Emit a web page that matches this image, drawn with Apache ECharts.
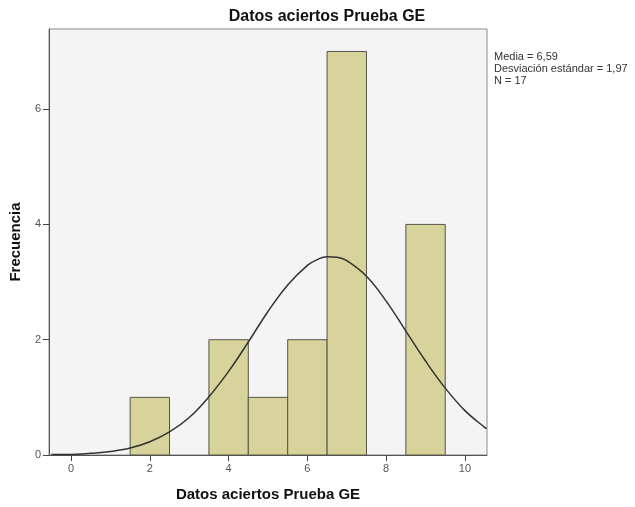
<!DOCTYPE html>
<html><head><meta charset="utf-8">
<script src="https://cdn.jsdelivr.net/npm/echarts@6/dist/echarts.min.js"></script>
<style>html,body{margin:0;padding:0;background:#fff}#c{width:635px;height:507px}</style>
</head><body><div id="c"></div>
<script>
var title = "Datos aciertos Prueba GE";
var xLabel = "Datos aciertos Prueba GE";
var yLabel = "Frecuencia";
var binCenters = [2, 4, 5, 6, 7, 9];
var binCounts = [1, 2, 1, 2, 7, 4];
var binWidth = 1;
var xTicks = [0, 2, 4, 6, 8, 10];
var yTicks = [0, 2, 4, 6];
var curveX = [-0.5, 0, 0.5, 1, 1.5, 2, 2.5, 3, 3.5, 4, 4.5, 5, 5.5, 6, 6.25, 6.5, 6.75, 7, 7.5, 8, 8.5, 9, 9.5, 10, 10.5, 10.55];
var curveY = [0.01, 0.01, 0.03, 0.06, 0.12, 0.23, 0.40, 0.65, 1.01, 1.45, 1.96, 2.49, 2.95, 3.29, 3.39, 3.44, 3.43, 3.37, 3.10, 2.67, 2.15, 1.63, 1.16, 0.77, 0.48, 0.46];
var statsLines = ["Media = 6,59", "Desviación estándar = 1,97", "N = 17"];

var chart = echarts.init(document.getElementById('c'), null, {renderer: 'canvas'});
var font = 'Liberation Sans, Arial, sans-serif';
var barData = binCenters.map(function (c, i) { return [c, binCounts[i]]; });
var curveData = curveX.map(function (x, i) { return [x, curveY[i]]; });

chart.setOption({
  animation: false,
  backgroundColor: '#ffffff',
  title: {
    text: title, left: 322, top: 4, textAlign: 'center',
    textStyle: {fontFamily: font, fontSize: 16, fontWeight: 'bold', color: '#111'}
  },
  grid: {left: 48, right: 148, top: 29, bottom: 49, show: true, backgroundColor: '#f4f4f4', borderColor: '#8a8a8a', borderWidth: 1},
  xAxis: {
    type: 'value', min: -0.56, max: 10.56,
    name: xLabel, nameLocation: 'middle', nameGap: 32,
    nameTextStyle: {fontFamily: font, fontSize: 15, fontWeight: 'bold', color: '#111'},
    axisLine: {show: true, onZero: false, lineStyle: {color: '#555', width: 1}},
    axisTick: {show: true, inside: false, length: 6, customValues: xTicks, lineStyle: {color: '#444'}},
    axisLabel: {customValues: xTicks, fontFamily: font, fontSize: 11, color: '#555', margin: 8},
    splitLine: {show: false}
  },
  yAxis: {
    type: 'value', min: 0, max: 7.39,
    name: yLabel, nameLocation: 'middle', nameGap: 26, nameRotate: 90,
    nameTextStyle: {fontFamily: font, fontSize: 15, fontWeight: 'bold', color: '#111'},
    axisLine: {show: true, onZero: false, lineStyle: {color: '#555', width: 1}},
    axisTick: {show: true, inside: false, length: 6, customValues: yTicks, lineStyle: {color: '#444'}},
    axisLabel: {customValues: yTicks, fontFamily: font, fontSize: 11, color: '#555', margin: 8},
    splitLine: {show: false}
  },
  series: [
    {
      type: 'custom',
      data: barData,
      renderItem: function (params, api) {
        var c = api.value(0), v = api.value(1);
        var p1 = api.coord([c - binWidth / 2, v]);
        var p2 = api.coord([c + binWidth / 2, 0]);
        return {
          type: 'rect',
          shape: {x: p1[0], y: p1[1], width: p2[0] - p1[0], height: p2[1] - p1[1]},
          style: {fill: '#d7d39b', stroke: '#555548', lineWidth: 1}
        };
      },
      z: 2
    },
    {
      type: 'line', data: curveData, smooth: 0.4, showSymbol: false,
      lineStyle: {color: '#333333', width: 1.5}, z: 3, clip: true
    }
  ],
  graphic: statsLines.map(function (t, i) {
    return {type: 'text', left: 494, top: 51 + i * 12,
      style: {text: t, fontFamily: font, fontSize: 11, fill: '#333'}};
  })
});
</script></body></html>
